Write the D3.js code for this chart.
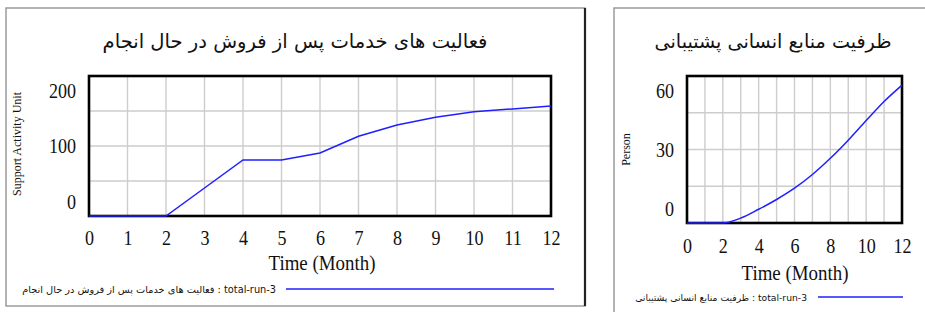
<!DOCTYPE html>
<html>
<head>
<meta charset="utf-8">
<script src="https://cdn.jsdelivr.net/npm/d3@7"></script>
<style>
  body { margin: 0; background: #fff; }
  svg { display: block; }
  .tick-label { font-family: "Liberation Serif", serif; font-size: 21px; fill: #111; }
  .axis-title { font-family: "Liberation Serif", serif; font-size: 22px; fill: #111; }
  .unit-label { font-family: "Liberation Serif", serif; font-size: 12px; fill: #111; }
  .fa-title { font-family: "DejaVu Sans", sans-serif; font-size: 23px; fill: #111; }
  .fa-legend { font-family: "DejaVu Sans", sans-serif; font-size: 11px; fill: #111; }
</style>
</head>
<body>
<div id="chart"></div>
<script>
// time axis (months)
const months = [0, 1, 2, 3, 4, 5, 6, 7, 8, 9, 10, 11, 12];

// after-sales support activities in progress (Support Activity Unit)
const supportActivity = [0, 0, 0, 40, 80, 80, 90, 114, 130, 141, 149, 153, 157];
const supportTicks = [0, 100, 200];
const supportMonthTicks = [0, 1, 2, 3, 4, 5, 6, 7, 8, 9, 10, 11, 12];

// support human resources capacity (Person)
const hrCapacity = [0, 0, 0, 2, 5.6, 9.6, 14.2, 19.8, 26.4, 33.8, 41.8, 49.6, 56.3];
const hrTicks = [0, 30, 60];
const hrMonthTicks = [0, 2, 4, 6, 8, 10, 12];

const svg = d3.select("#chart")
    .append("svg")
    .attr("width", 925)
    .attr("height", 312);

// shrink or grow a text's font size until it is about the wanted width
function fitWidth(sel, width) {
    const node = sel.node();
    const size = parseFloat(getComputedStyle(node).fontSize);
    const w = node.getComputedTextLength();
    if (w > 0) sel.style("font-size", (size * width / w).toFixed(2) + "px");
}

function drawPanel(opts) {
    const g = svg.append("g");

    // outer frame of the panel
    g.append("rect")
        .attr("x", opts.box.x)
        .attr("y", opts.box.y)
        .attr("width", opts.box.w)
        .attr("height", opts.box.h)
        .attr("fill", "none")
        .attr("stroke", "#8c8c8c")
        .attr("stroke-width", 1.3);
    if (opts.shadow) {
        g.append("line")
            .attr("x1", opts.box.x + opts.box.w)
            .attr("x2", opts.box.x + opts.box.w)
            .attr("y1", opts.box.y)
            .attr("y2", opts.box.y + opts.box.h)
            .attr("stroke", "#222")
            .attr("stroke-width", 2.2);
    }

    // scales
    const xScale = d3.scaleLinear()
        .domain([0, 12])
        .range([opts.plot.x0, opts.plot.x1]);
    const yScale = d3.scaleLinear()
        .domain([0, opts.yMax])
        .range([opts.plot.y1, opts.plot.y0]);

    // grid
    const grid = g.append("g")
        .attr("stroke", "#cdcdcd")
        .attr("stroke-width", 1.4);
    grid.selectAll("line.vx")
        .data(months)
        .join("line")
        .attr("x1", d => xScale(d))
        .attr("x2", d => xScale(d))
        .attr("y1", opts.plot.y0)
        .attr("y2", opts.plot.y1);
    grid.selectAll("line.hy")
        .data(d3.range(1, 4).map(i => opts.yMax * i / 4))
        .join("line")
        .attr("x1", opts.plot.x0)
        .attr("x2", opts.plot.x1)
        .attr("y1", d => yScale(d))
        .attr("y2", d => yScale(d));

    // plot border
    g.append("rect")
        .attr("x", opts.plot.x0)
        .attr("y", opts.plot.y0)
        .attr("width", opts.plot.x1 - opts.plot.x0)
        .attr("height", opts.plot.y1 - opts.plot.y0)
        .attr("fill", "none")
        .attr("stroke", "#000")
        .attr("stroke-width", 2.6);

    // data line
    const line = d3.line()
        .x((d, i) => xScale(months[i]))
        .y(d => yScale(d))
        .curve(opts.curve);
    g.append("path")
        .datum(opts.values)
        .attr("d", line)
        .attr("fill", "none")
        .attr("stroke", "#1f1fff")
        .attr("stroke-width", 1.5);

    // x axis labels
    const xAxis = g.append("g")
        .attr("transform", `translate(0, ${opts.plot.y1})`)
        .call(d3.axisBottom(xScale).tickValues(opts.xTicks).tickSize(0).tickPadding(opts.xPad));
    xAxis.select(".domain").remove();
    xAxis.selectAll("text")
        .attr("class", "tick-label")
        .attr("font-size", null)
        .attr("font-family", null)
        .attr("transform", "scale(0.86,1)");

    // y axis labels (top and bottom pulled inside like the source tool)
    const yAxis = g.append("g")
        .attr("transform", `translate(${opts.plot.x0}, 0)`)
        .call(d3.axisLeft(yScale).tickValues(opts.yTicks).tickSize(0).tickPadding(15));
    yAxis.select(".domain").remove();
    yAxis.selectAll("text")
        .attr("class", "tick-label")
        .attr("font-size", null)
        .attr("font-family", null)
        .attr("transform", "scale(0.86,1)")
        .attr("y", d => d === opts.yMax ? 15 : d === 0 ? -14 : 0);

    // unit label
    g.append("text")
        .attr("class", "unit-label")
        .attr("transform", `translate(${opts.unitX}, ${(opts.plot.y0 + opts.plot.y1) / 2 + opts.unitDy}) rotate(-90)`)
        .attr("text-anchor", "middle")
        .attr("dy", "0.35em")
        .text(opts.unit);

    // x axis title
    g.append("text")
        .attr("class", "axis-title")
        .attr("transform", `translate(${opts.timeX}, ${opts.timeY}) scale(0.86,1)`)
        .attr("text-anchor", "middle")
        .text("Time (Month)");

    // chart title
    const title = g.append("text")
        .attr("class", "fa-title")
        .attr("x", opts.titleX)
        .attr("y", 48)
        .attr("text-anchor", "middle")
        .text(opts.title);
    fitWidth(title, opts.titleW);

    // legend
    g.append("line")
        .attr("x1", opts.legend.x0)
        .attr("x2", opts.legend.x1)
        .attr("y1", opts.legend.y)
        .attr("y2", opts.legend.y)
        .attr("stroke", "#1f1fff")
        .attr("stroke-width", 1.5);
    const legendText = g.append("text")
        .attr("class", "fa-legend")
        .attr("x", opts.legend.tx)
        .attr("y", opts.legend.y + 4)
        .attr("text-anchor", "end")
        .text(opts.title + " : total-run-3");
    fitWidth(legendText, opts.legend.tw);
}

drawPanel({
    box: { x: 6, y: 8, w: 579, h: 298 },
    shadow: true,
    plot: { x0: 89, x1: 551, y0: 76, y1: 216 },
    yMax: 200,
    yTicks: supportTicks,
    xTicks: supportMonthTicks,
    xPad: 14,
    values: supportActivity,
    curve: d3.curveLinear,
    unit: "Support Activity Unit",
    unitX: 17,
    unitDy: -2,
    timeX: 322,
    timeY: 270,
    title: "فعالیت های خدمات پس از فروش در حال انجام",
    titleX: 295,
    titleW: 385,
    legend: { x0: 286, x1: 554, y: 289, tx: 276, tw: 254 }
});

drawPanel({
    box: { x: 614, y: 8, w: 330, h: 320 },
    shadow: false,
    plot: { x0: 687, x1: 902, y0: 76, y1: 223 },
    yMax: 60,
    yTicks: hrTicks,
    xTicks: hrMonthTicks,
    xPad: 15,
    values: hrCapacity,
    curve: d3.curveMonotoneX,
    unit: "Person",
    unitX: 626,
    unitDy: 0,
    timeX: 795,
    timeY: 280,
    title: "ظرفیت منابع انسانی پشتیبانی",
    titleX: 773,
    titleW: 237,
    legend: { x0: 818, x1: 903, y: 297, tx: 807, tw: 172 }
});
</script>
</body>
</html>
